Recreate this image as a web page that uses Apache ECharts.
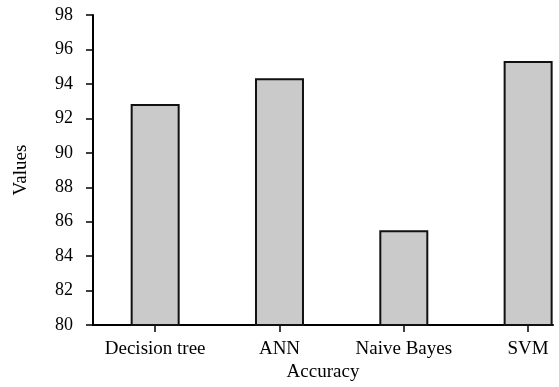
<!DOCTYPE html>
<html><head><meta charset="utf-8">
<script src="https://cdn.jsdelivr.net/npm/echarts@6/dist/echarts.min.js"></script>
<style>html,body{margin:0;padding:0;background:#fff}#c{width:559px;height:387px}</style>
</head><body><div id="c"></div>
<script>
var categories = ['Decision tree', 'ANN', 'Naive Bayes', 'SVM'];
var values = [92.83, 94.33, 85.5, 95.33];
var yTicks = [80, 82, 84, 86, 88, 90, 92, 94, 96, 98];

var font = 'Liberation Serif';
var chart = echarts.init(document.getElementById('c'));
chart.setOption({
  animation: false,
  grid: { left: 93, top: 15, right: 6, bottom: 58 },
  xAxis: {
    type: 'value', min: -0.5, max: 3.2,
    name: 'Accuracy', nameLocation: 'middle', nameGap: 37,
    nameTextStyle: { fontFamily: font, fontSize: 19, color: '#000' },
    axisLine: { show: true, onZero: false, lineStyle: { color: '#000', width: 2 } },
    axisTick: { show: true, length: 7, customValues: [0, 1, 2, 3], lineStyle: { color: '#000', width: 1.5 } },
    axisLabel: { customValues: [0, 1, 2, 3], margin: 14, fontFamily: font, fontSize: 19, color: '#000',
      formatter: function (v) { return categories[Math.round(v)] || ''; } },
    splitLine: { show: false }
  },
  yAxis: {
    type: 'value', min: 80, max: 98, interval: 2,
    name: 'Values', nameLocation: 'middle', nameGap: 62,
    nameTextStyle: { fontFamily: font, fontSize: 19, color: '#000' },
    axisLine: { show: true, onZero: false, lineStyle: { color: '#000', width: 2 } },
    axisTick: { show: true, length: 7, lineStyle: { color: '#000', width: 1.5 } },
    axisLabel: { margin: 20, fontFamily: font, fontSize: 18, color: '#000',
      formatter: function (v) { return yTicks.indexOf(v) >= 0 ? String(v) : ''; } },
    splitLine: { show: false }
  },
  series: [{
    type: 'bar', barWidth: 49,
    data: values.map(function (v, i) { return [i, v]; }),
    itemStyle: { color: '#cacaca', borderColor: '#111', borderWidth: 2 }
  }]
});
</script></body></html>
